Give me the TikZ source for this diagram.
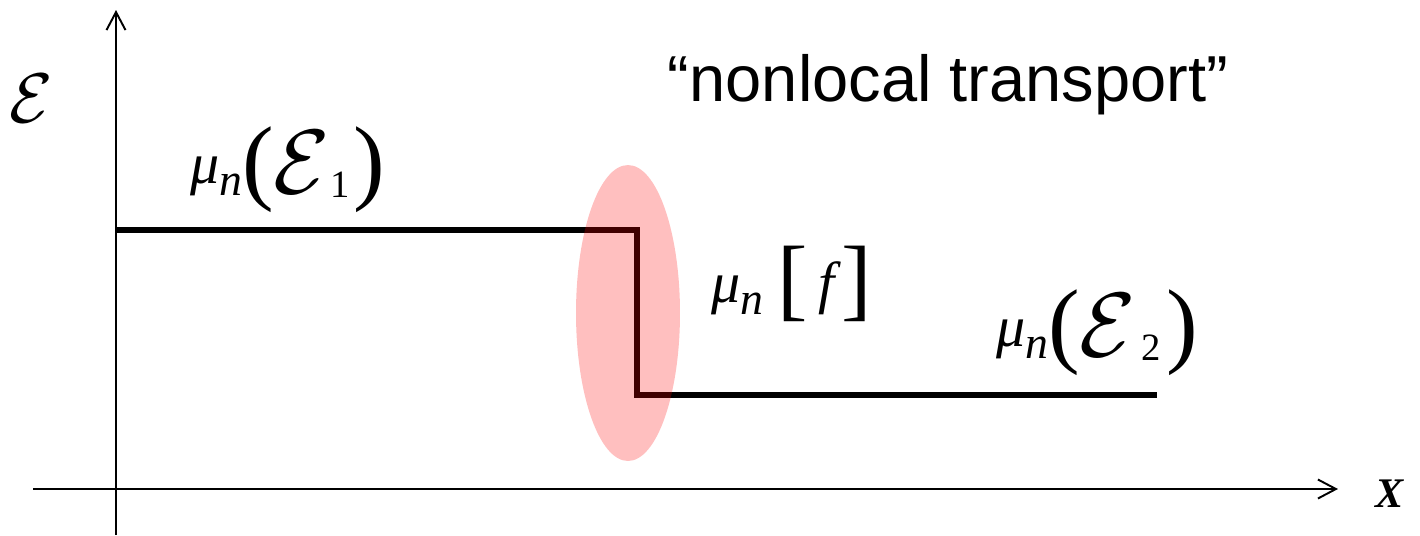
\RequirePackage{fix-cm}
\documentclass[tikz,border=0pt]{standalone}
\usepackage{fontspec}
\setmainfont{Liberation Sans}
\newfontfamily\timesfont{Liberation Serif}
\usetikzlibrary{arrows.meta, positioning, shapes.geometric}
% pieces of the Times-like formula labels
\newcommand{\tmu}{{\fontsize{33}{36}\selectfont\itshape μ}}
\newcommand{\tsub}[1]{\raisebox{-7pt}{\fontsize{26}{30}\selectfont\itshape #1}}
\newcommand{\tdel}[1]{\raisebox{-5.5pt}{\fontsize{54}{60}\selectfont #1}}
\newcommand{\calE}{\raisebox{-6pt}{\fontsize{52}{58}\selectfont$\mathcal{E}$}}
\newcommand{\tidx}[1]{\raisebox{-8pt}{\fontsize{22}{26}\selectfont #1}}

\begin{document}
\begin{tikzpicture}[
      x=0.02cm, y=-0.02cm,
      axisarrow/.style={line width=1.1pt,
        -{Straight Barb[length=0.36cm, width=0.38cm, line width=1.1pt]}},
      fermiline/.style={line width=3.2pt, line join=miter},
      region/.style={ellipse, fill=red, fill opacity=0.25, draw=none,
        minimum width=2.08cm, minimum height=5.92cm, inner sep=0pt},
      mathlabel/.style={font=\timesfont, inner sep=0pt, anchor=base west},
    ]
      \useasboundingbox (0,0) rectangle (1420,535);

      % axes
      \coordinate (xstart) at (33,489);
      \coordinate (xend)   at (1338,489);
      \coordinate (ystart) at (116,535);
      \coordinate (yend)   at (116,10);
      \draw[axisarrow] (xstart) -- (xend);
      \draw[axisarrow] (ystart) -- (yend);
      \node[font=\fontsize{40}{46}\selectfont, inner sep=0pt] (elabel) at (31,98) {$\mathcal{E}$};
      \node[font=\fontsize{24}{28}\selectfont\timesfont\bfseries\itshape, inner sep=0pt] (xlabel) at (1390,494) {X};

      % quasi-Fermi level with a step
      \coordinate (left)    at (116,230);
      \coordinate (stepTop) at (637,230);
      \coordinate (stepBot) at (637,395);
      \coordinate (right)   at (1157,395);
      \draw[fermiline] (left) -- (stepTop) -- (stepBot) -- (right);

      % nonlocal region
      \node[region] (nonlocal) at (628,313) {};

      \node[mathlabel] (mu1) at (190,183) {\tmu\tsub{n}\tdel{(}\calE\tidx{1}\kern2pt\tdel{)}};
      \node[mathlabel] (muf) at (711,302) {\tmu\tsub{n}\kern8pt\raisebox{-4pt}{\fontsize{52}{58}\selectfont[}\kern6pt{\fontsize{33}{38}\selectfont\itshape f}\kern4pt\raisebox{-4pt}{\fontsize{52}{58}\selectfont]}};
      \node[mathlabel] (mu2) at (996,346) {\tmu\tsub{n}\tdel{(}\calE\kern3pt\tidx{2}\kern3pt\tdel{)}};
      \node[font=\fontsize{37}{44}\selectfont, inner sep=0pt] (title) at (948,85) {“nonlocal transport”};
    \end{tikzpicture}
\end{document}
